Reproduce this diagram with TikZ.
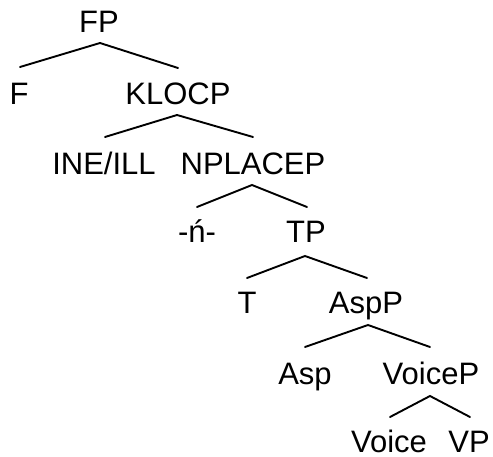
\documentclass[tikz,border=0pt]{standalone}
\usepackage{fontspec}
\setmainfont{Liberation Sans}
\begin{document}
\begin{tikzpicture}[x=1pt,y=-1pt,
  lbl/.style={anchor=base,inner sep=0pt,font=\fontsize{31}{36}\selectfont},
  branch/.style={line width=1.9pt,line cap=round,black}]
\useasboundingbox (0,0) rectangle (493,457);
% labels
\node[lbl] (FP) at (99,33) {FP};
\node[lbl] (F) at (19,105) {F};
\node[lbl] (KLOCP) at (178,105) {KLOCP};
\node[lbl] (INE) at (104,175) {INE/ILL};
\node[lbl] (NPLACEP) at (253,175) {NPLACEP};
\node[lbl] (n) at (197,243) {-ń-};
\node[lbl] (TP) at (306,243) {TP};
\node[lbl] (T) at (247,313) {T};
\node[lbl] (AspP) at (366,313) {AspP};
\node[lbl] (Asp) at (305,384) {Asp};
\node[lbl] (VoiceP) at (431,384) {VoiceP};
\node[lbl,text depth=0pt] (Voice) at (389,452) {Voice};
\node[lbl,text depth=0pt] (VP) at (469,452) {VP};
% branch points
\coordinate (FPa) at (100,43);  \coordinate (FPl) at (20,67);  \coordinate (FPr) at (178,68);
\coordinate (Ka) at (177,115);  \coordinate (Kl) at (105,137); \coordinate (Kr) at (253,137);
\coordinate (Na) at (252,185);  \coordinate (Nl) at (197,207); \coordinate (Nr) at (307,207);
\coordinate (Ta) at (305,256);  \coordinate (Tl) at (247,278); \coordinate (Tr) at (367,278);
\coordinate (Aa) at (368,325);  \coordinate (Al) at (305,347); \coordinate (Ar) at (430,347);
\coordinate (Va) at (430,396);  \coordinate (Vl) at (390,417); \coordinate (Vr) at (470,417);
\draw[branch] (FPl) -- (FPa) -- (FPr);
\draw[branch] (Kl) -- (Ka) -- (Kr);
\draw[branch] (Nl) -- (Na) -- (Nr);
\draw[branch] (Tl) -- (Ta) -- (Tr);
\draw[branch] (Al) -- (Aa) -- (Ar);
\draw[branch] (Vl) -- (Va) -- (Vr);
\end{tikzpicture}
\end{document}
